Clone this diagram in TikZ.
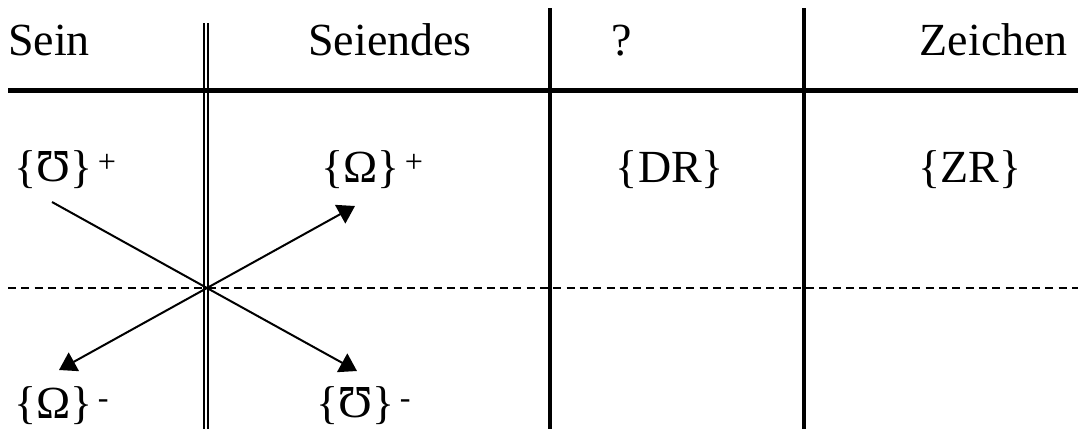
\documentclass[tikz,border=0pt]{standalone}
\usepackage{fontspec}
\setmainfont{Liberation Serif}
\usepackage{graphicx}
\usetikzlibrary{arrows.meta}

\newcommand{\mhosym}{\rotatebox[origin=c]{180}{Ω}}

\begin{document}
\begin{tikzpicture}[
  x=1pt, y=-1pt,
  every node/.style={font=\fontsize{46}{55}\selectfont, inner sep=0pt},
  head/.style={anchor=base},
  cell/.style={anchor=base west},
  thickrule/.style={line width=5pt},
  dblrule/.style={double, line width=2pt, double distance=2.6pt},
  colrule/.style={line width=4.5pt},
  midrule/.style={line width=3.5pt},
  splitrule/.style={line width=2pt, dash pattern=on 8pt off 5.3pt},
  arrow/.style={line width=2pt},
  >={Triangle[width=21pt,length=17pt]},
]
\useasboundingbox (0,0) rectangle (1078,429);

%% -- Column / row positions ------------------------
\def\xa{206}  % double rule
\def\xb{550}  % thick rule
\def\xc{804}  % thin rule
\def\yh{90}   % header rule
\def\yd{288}  % dashed split

%% -- Rules -----------------------------------------
\draw[dblrule]   (\xa,23) -- (\xa,429);
\draw[colrule]   (\xb,8)  -- (\xb,429);
\draw[midrule]   (\xc,8)  -- (\xc,429);
\draw[thickrule] (8,\yh)  -- (1078,\yh);
\draw[splitrule] (8,\yd)  -- (1078,\yd);

%% -- Header ----------------------------------------
\node[anchor=base west] (sein)     at (8,55)    {Sein};
\node[head]             (seiendes) at (390,55)  {Seiendes};
\node[head]             (frage)    at (622,55)  {?};
\node[anchor=base east] (zeichen)  at (1068,55) {Zeichen};

%% -- Cells -----------------------------------------
\node[cell] (mhoPlus)    at (14,182)  {\{\mhosym\}\textsuperscript{\,+}};
\node[cell] (omegaPlus)  at (321,182) {\{Ω\}\textsuperscript{\,+}};
\node[head] (dr)         at (670,182) {\{DR\}};
\node[head] (zr)         at (970,182) {\{ZR\}};
\node[cell] (omegaMinus) at (14,418)  {\{Ω\}\textsuperscript{\,-}};
\node[cell] (mhoMinus)   at (316,418) {\{\mhosym\}\textsuperscript{\,-}};

%% -- Crossing arrows -------------------------------
\coordinate (kreuz) at (207,\yd);
\coordinate (s1) at (52,202);
\coordinate (e1) at (357,371);
\coordinate (s2) at (59,370);
\coordinate (e2) at (355,206);

\draw[arrow, ->]  (s1) -- (kreuz) -- (e1);
\draw[arrow, <->] (s2) -- (kreuz) -- (e2);

\end{tikzpicture}
\end{document}
